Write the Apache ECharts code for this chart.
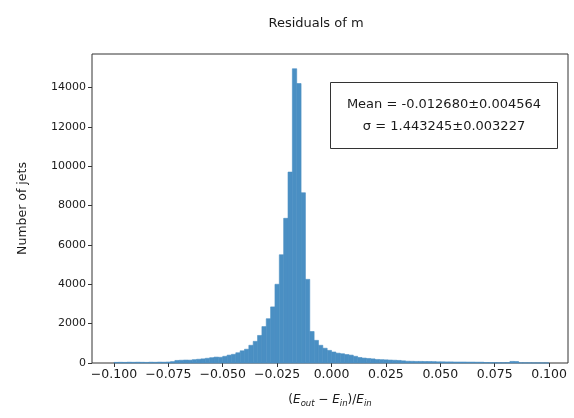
<!DOCTYPE html>
<html>
<head>
<meta charset="utf-8">
<script src="https://cdn.jsdelivr.net/npm/echarts@6/dist/echarts.min.js"></script>
<style>
html,body{margin:0;padding:0;background:#fff;}
#chart{width:574px;height:418px;}
</style>
</head>
<body>
<div id="chart"></div>
<script>
// Histogram definition: 100 bins from binLo to binHi
const binLo = -0.1;
const binHi = 0.1;
const counts = [
  30, 35, 30, 40, 35, 40, 35, 30, 40, 35,
  45, 40, 50, 70, 130, 140, 150, 145, 170, 190,
  210, 240, 270, 300, 290, 340, 400, 440, 520, 620,
  700, 900, 1100, 1400, 1850, 2250, 2850, 4000, 5500, 7350,
  9700, 14950, 14200, 8650, 4250, 1600, 1150, 900, 750, 640,
  560, 500, 470, 430, 400, 340, 280, 250, 230, 210,
  180, 170, 160, 150, 140, 130, 110, 90, 85, 80,
  80, 75, 75, 70, 60, 60, 55, 55, 50, 50,
  50, 45, 45, 40, 40, 25, 20, 20, 15, 15,
  20, 80, 75, 10, 10, 10, 5, 5, 5, 5
];
const xTicks = [-0.1, -0.075, -0.05, -0.025, 0, 0.025, 0.05, 0.075, 0.1];
const yTicks = [0, 2000, 4000, 6000, 8000, 10000, 12000, 14000];
const titleText = 'Residuals of m';
const yName = 'Number of jets';
const statLines = ['Mean = -0.012680\u00b10.004564', '\u03c3 = 1.443245\u00b10.003227'];

const nb = counts.length;
const bw = (binHi - binLo) / nb;
const data = counts.map((c, i) => [binLo + i * bw, binLo + (i + 1) * bw, c]);

const chart = echarts.init(document.getElementById('chart'), null, {renderer: 'canvas'});
const font = 'DejaVu Sans';
const ink = '#1a1a1a';
const barColor = '#4a8fc3';
const fmtX = v => (v < 0 ? '\u2212' : '') + Math.abs(v).toFixed(3);

chart.setOption({
  animation: false,
  backgroundColor: '#fff',
  textStyle: {fontFamily: font},
  title: {
    text: titleText,
    left: 311, top: 12,
    textAlign: 'center',
    textStyle: {fontFamily: font, fontSize: 13, fontWeight: 'normal', color: ink}
  },
  grid: {
    left: 92, right: 6, top: 54, bottom: 55,
    show: true, borderColor: '#333', borderWidth: 1, backgroundColor: 'transparent'
  },
  xAxis: {
    type: 'value', min: -0.1101, max: 0.1087,
    splitLine: {show: false},
    axisLine: {show: false},
    axisTick: {show: true, length: 4, lineStyle: {color: '#333'}, customValues: xTicks},
    axisLabel: {customValues: xTicks, formatter: fmtX, fontFamily: font, fontSize: 12.5, color: ink, margin: 5},
    name: '{p|(}{i|E}{s|out}{p| \u2212 }{i|E}{s|in}{p|)/}{i|E}{s|in}',
    nameLocation: 'middle', nameGap: 28,
    nameTextStyle: {
      fontFamily: font, fontSize: 12, color: ink,
      rich: {
        p: {fontFamily: font, fontSize: 12, color: ink, lineHeight: 17, verticalAlign: 'middle'},
        i: {fontFamily: font, fontSize: 12, fontStyle: 'italic', color: ink, lineHeight: 17, verticalAlign: 'middle'},
        s: {fontFamily: font, fontSize: 8.5, fontStyle: 'italic', color: ink, lineHeight: 17, verticalAlign: 'bottom', padding: [4, 0, 0, 0]}
      }
    }
  },
  yAxis: {
    type: 'value', min: 0, max: 15700,
    splitLine: {show: false},
    axisLine: {show: false, onZero: false},
    axisTick: {show: true, length: 4, lineStyle: {color: '#333'}, customValues: yTicks},
    axisLabel: {customValues: yTicks, formatter: v => String(v), fontFamily: font, fontSize: 11, color: ink, margin: 6},
    name: yName, nameLocation: 'middle', nameGap: 63, nameRotate: 90,
    nameTextStyle: {fontFamily: font, fontSize: 12.5, color: ink}
  },
  series: [{
    type: 'custom',
    data: data,
    encode: {x: [0, 1], y: 2},
    renderItem: function (params, api) {
      const p0 = api.coord([api.value(0), 0]);
      const p1 = api.coord([api.value(1), api.value(2)]);
      return {
        type: 'rect',
        shape: {x: p0[0], y: p1[1], width: p1[0] - p0[0], height: p0[1] - p1[1]},
        style: {fill: barColor, stroke: barColor, lineWidth: 0.6}
      };
    },
    z: 1
  }],
  graphic: [{
    type: 'group',
    left: 330, top: 82,
    z: 100,
    children: [
      {type: 'rect', shape: {x: 0, y: 0, width: 227, height: 66}, style: {fill: '#fff', stroke: '#333', lineWidth: 1}},
      {type: 'text', x: 113.5, y: 22, style: {text: statLines[0], fontFamily: font, fontSize: 13, fill: ink, align: 'center', verticalAlign: 'middle'}},
      {type: 'text', x: 113.5, y: 44, style: {text: statLines[1], fontFamily: font, fontSize: 13, fill: ink, align: 'center', verticalAlign: 'middle'}}
    ]
  }]
});
</script>
</body>
</html>
